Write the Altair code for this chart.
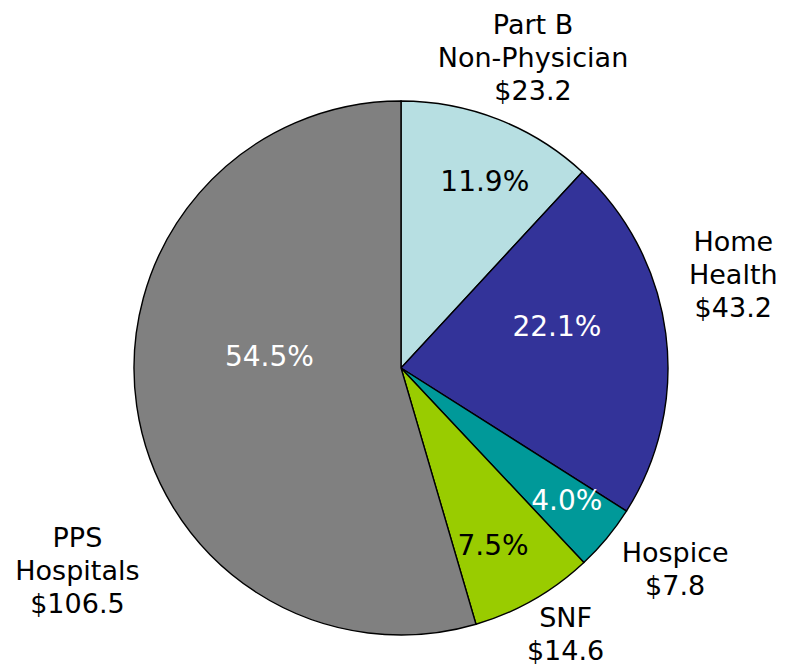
import altair as alt
import pandas as pd

# ---- data ----
categories = ["Part B Non-Physician", "Home Health", "Hospice", "SNF", "PPS Hospitals"]
values = [23.2, 43.2, 7.8, 14.6, 106.5]
pct_labels = ["11.9%", "22.1%", "4.0%", "7.5%", "54.5%"]
name_lines = [
    ["Part B", "Non-Physician", "$23.2"],
    ["Home", "Health", "$43.2"],
    ["Hospice", "$7.8"],
    ["SNF", "$14.6"],
    ["PPS", "Hospitals", "$106.5"],
]

# ---- styling / layout ----
colors = ["#B7DFE2", "#333399", "#009999", "#99CC00", "#808080"]
pct_colors = ["black", "white", "white", "black", "white"]
pct_radius = [203, 161, 213, 201, 132]
pct_shift = [3.0, -7.0, -0.7, 2.5, 12.4]
# polar anchor (first text line) of each outside label
out_radius = [367, 355, 331, 300, 366]
out_shift = [-0.3, -13.2, -5.5, -3.5, -19.7]
CX, CY, R = 393, 360, 267
FONT = "DejaVu Sans"

df = pd.DataFrame({
    "idx": list(range(len(categories))),
    "category": categories,
    "value": values,
    "pct": pct_labels,
    "name": name_lines,
    "pcolor": pct_colors,
    "pr": pct_radius,
    "pshift": pct_shift,
    "orr": out_radius,
    "oshift": out_shift,
})

base = alt.Chart(df)

pie = base.mark_arc(outerRadius=R, stroke="black", strokeWidth=1.4).encode(
    theta=alt.Theta("value:Q", stack=True),
    order=alt.Order("idx:Q"),
    color=alt.Color("category:N", scale=alt.Scale(domain=categories, range=colors), legend=None),
    x=alt.value(CX),
    y=alt.value(CY),
)

angles = base.transform_joinaggregate(total="sum(value)").transform_window(
    cum="sum(value)", sort=[alt.SortField("idx")], frame=[None, 0]
).transform_calculate(
    mid="2*PI*(datum.cum - datum.value/2)/datum.total"
)

pct_text = angles.transform_calculate(
    ang="datum.mid + datum.pshift*PI/180"
).mark_text(font=FONT, fontSize=28, align="center", baseline="middle").encode(
    theta=alt.Theta("ang:Q", scale=None),
    radius=alt.Radius("pr:Q", scale=None),
    text="pct:N",
    color=alt.Color("pcolor:N", scale=None),
    x=alt.value(CX),
    y=alt.value(CY),
)

name_text = angles.transform_calculate(
    ang="datum.mid + datum.oshift*PI/180"
).mark_text(font=FONT, fontSize=27, align="center", baseline="middle",
            lineHeight=33, color="black").encode(
    theta=alt.Theta("ang:Q", scale=None),
    radius=alt.Radius("orr:Q", scale=None),
    text="name",
    x=alt.value(CX),
    y=alt.value(CY),
)

chart = alt.layer(pie, pct_text, name_text).properties(
    width=769, height=656, autosize="none", padding=0
).configure_view(stroke=None)

chart.save("out.html", embed_options={"renderer": "svg", "actions": False})
